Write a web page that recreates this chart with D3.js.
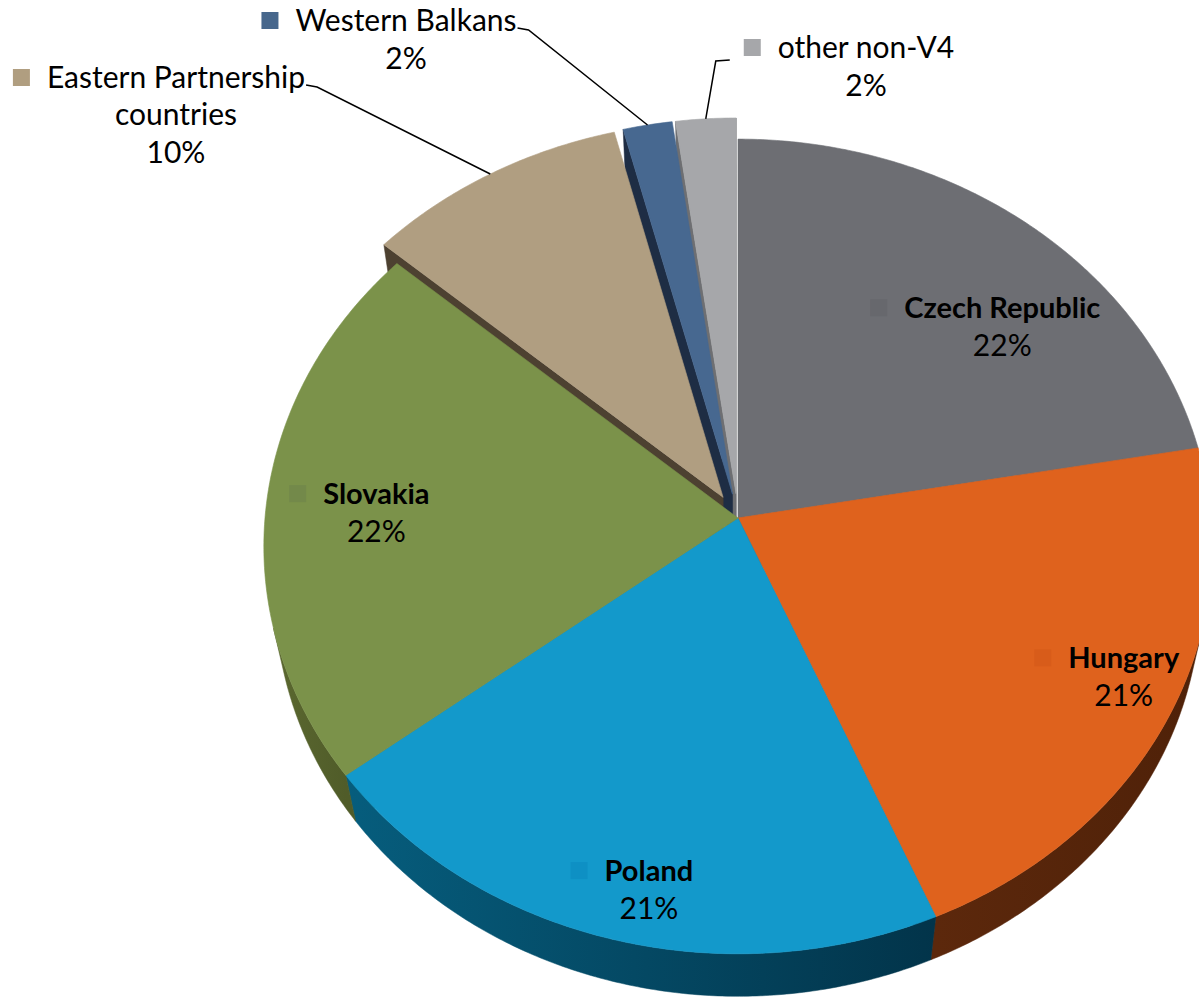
<!DOCTYPE html>
<html lang="en">
<head>
<meta charset="UTF-8" />
<title>3D Pie - share by country group</title>
<script src="https://d3js.org/d3.v7.min.js"></script>
<style>
  body { margin: 0; background: #fff; }
  svg { display: block; }
  text { font-family: Lato, "Open Sans", sans-serif; fill: #000; }
</style>
</head>
<body>
<svg width="1199" height="997"></svg>
<script>
// data (percentages)
const categories = ["Czech Republic", "Hungary", "Poland", "Slovakia",
  "Eastern Partnership countries", "Western Balkans", "other non-V4"];
const shares = [22.2, 21.4, 21.0, 21.8, 9.6, 1.8, 2.2];
const pctLabels = ["22%", "21%", "21%", "22%", "10%", "2%", "2%"];

const topColors  = ["#6d6e73", "#df621d", "#1399cb", "#7b924a", "#b09e81", "#476890", "#a6a7aa"];
const sideLight  = ["#45464a", "#5c280c", "#065d7d", "#5b6830", "#4d4131", "#1e2d44", "#6e6f72"];
const sideDark   = ["#3a3b3e", "#4f2108", "#02344a", "#505c29", "#3f3527", "#18243a", "#5e5f62"];
const markColors = ["#67686d", "#d85c1a", "#0e90c4", "#73894a", "#b09e80", "#47678c", "#a6a7aa"];
const explode = [0, 0, 0, 0, 0.06, 0.06, 0.06];

// 3d projection setup (unit radius disk, camera above and in front)
const cx = 738, cy = 518;
const D = 7.38, s = 0.857, c = Math.sqrt(1 - s * s);
const f = 473 * D;
const depthH = 0.21;

function P(x, y, z) {
  const d = D - y * s - z * c;
  return [cx + f * x / d, cy - f * (y * c - z * s) / d];
}
function camDepth(x, y, z) { return D - y * s - z * c; }

const svg = d3.select("svg");
const pie = d3.pie().sort(null).value(d => d);
const arcs = pie(shares);

const slices = arcs.map((a, i) => {
  const mid = (a.startAngle + a.endAngle) / 2;
  return {
    i, a0: a.startAngle, a1: a.endAngle, mid,
    ox: explode[i] * Math.sin(mid), oz: -explode[i] * Math.cos(mid)
  };
});

function rim(sl, t, y) {
  return [sl.ox + Math.sin(t), y, sl.oz - Math.cos(t)];
}
const line = d3.line();

const gRadial = svg.append("g");
const gWall = svg.append("g");
const gTop = svg.append("g");
const defs = svg.append("defs");

// radial (cut) faces
const faces = [];
slices.forEach(sl => {
  [[sl.a0, -1], [sl.a1, 1]].forEach(([t, sign]) => {
    const nx = sign * Math.cos(t), nz = sign * Math.sin(t);
    const vis = nx * (0 - sl.ox) + nz * (D * c - sl.oz);
    if (vis <= 0.001) return;
    const a = [sl.ox, 0, sl.oz], b = rim(sl, t, 0);
    const bb = rim(sl, t, -depthH), ab = [sl.ox, -depthH, sl.oz];
    faces.push({
      sl, pts: [a, b, bb, ab].map(p => P(...p)),
      z: camDepth((a[0] + b[0]) / 2, -depthH / 2, (a[2] + b[2]) / 2)
    });
  });
});
faces.sort((p, q) => q.z - p.z);
gRadial.selectAll("path").data(faces).join("path")
  .attr("d", d => line(d.pts) + "Z")
  .attr("fill", d => sideLight[d.sl.i])
  .attr("stroke", d => sideLight[d.sl.i])
  .attr("stroke-width", 0.5);

// outer curved walls
slices.forEach(sl => {
  const n = Math.max(8, Math.ceil((sl.a1 - sl.a0) * 180 / Math.PI * 2));
  const ts = d3.range(n + 1).map(k => sl.a0 + (sl.a1 - sl.a0) * k / n)
    .filter(t => -sl.ox * Math.sin(t) - 1 - D * c * Math.cos(t) + sl.oz * Math.cos(t) > 0);
  if (ts.length < 2) return;
  const topPts = ts.map(t => P(...rim(sl, t, 0)));
  const botPts = ts.map(t => P(...rim(sl, t, -depthH))).reverse();
  const xs = topPts.map(p => p[0]);
  const gid = "wall" + sl.i;
  const grad = defs.append("linearGradient").attr("id", gid)
    .attr("gradientUnits", "userSpaceOnUse")
    .attr("x1", d3.min(xs)).attr("x2", d3.max(xs)).attr("y1", 0).attr("y2", 0);
  grad.append("stop").attr("offset", 0).attr("stop-color", sideLight[sl.i]);
  grad.append("stop").attr("offset", 1).attr("stop-color", sideDark[sl.i]);
  gWall.append("path")
    .attr("d", line(topPts.concat(botPts)) + "Z")
    .attr("fill", `url(#${gid})`)
    .attr("stroke", `url(#${gid})`)
    .attr("stroke-width", 0.5);
});

// top faces
gTop.selectAll("path").data(slices).join("path")
  .attr("d", sl => {
    const n = Math.max(4, Math.ceil((sl.a1 - sl.a0) * 180 / Math.PI * 2));
    const pts = [P(sl.ox, 0, sl.oz)];
    for (let k = 0; k <= n; k++) pts.push(P(...rim(sl, sl.a0 + (sl.a1 - sl.a0) * k / n, 0)));
    return line(pts) + "Z";
  })
  .attr("fill", sl => topColors[sl.i])
  .attr("stroke", sl => topColors[sl.i])
  .attr("stroke-width", 0.6);

// labels inside the pie: [angle deg, radius] of the name baseline centre
const insideAt = [[47.2, 0.79], [113, 0.865], [192.2, 0.84], [274.4, 0.77]];
const fsBold = 29, fsReg = 30, lineGap = 38, mark = 17;

const gLab = svg.append("g");
insideAt.forEach(([deg, r], i) => {
  const t = deg * Math.PI / 180;
  const [x, y] = P(r * Math.sin(t), 0, -r * Math.cos(t));
  const name = gLab.append("text").attr("x", x).attr("y", y + 10)
    .attr("text-anchor", "middle").attr("font-weight", "bold")
    .attr("font-size", fsBold).text(categories[i]);
  const w = name.node().getComputedTextLength();
  gLab.append("rect").attr("x", x - w / 2 - 17 - mark).attr("y", y + 10 - 19)
    .attr("width", mark).attr("height", mark).attr("fill", markColors[i]);
  gLab.append("text").attr("x", x).attr("y", y + 10 + lineGap)
    .attr("text-anchor", "middle").attr("font-size", fsReg).text(pctLabels[i]);
});

// labels outside with leader lines: name centre x, first baseline, lines
const outside = [
  { i: 4, x: 176, y: 88, lines: ["Eastern Partnership", "countries"], side: "right" },
  { i: 5, x: 406, y: 31, lines: ["Western Balkans"], side: "right" },
  { i: 6, x: 866, y: 58, lines: ["other non-V4"], side: "left" }
];
outside.forEach(o => {
  let w0 = 0;
  o.lines.forEach((ln, k) => {
    const tnode = gLab.append("text").attr("x", o.x).attr("y", o.y + k * 36.5)
      .attr("text-anchor", "middle").attr("font-size", fsReg).text(ln);
    if (k === 0) w0 = tnode.node().getComputedTextLength();
  });
  gLab.append("text").attr("x", o.x).attr("y", o.y + o.lines.length * 37.5)
    .attr("text-anchor", "middle").attr("font-size", fsReg).text(pctLabels[o.i]);
  gLab.append("rect").attr("x", o.x - w0 / 2 - 17 - mark).attr("y", o.y - 19)
    .attr("width", mark).attr("height", mark).attr("fill", markColors[o.i]);
  const sl = slices[o.i];
  const end = P(...rim(sl, sl.mid, 0));
  let pts;
  if (o.side === "right") {
    const x0 = o.x + w0 / 2 + 1;
    pts = [[x0, o.y - 3], [x0 + 11, o.y - 1], end];
  } else {
    const x0 = o.x - w0 / 2 - 17 - mark - 14;
    pts = [[x0, o.y + 2], [x0 - 14, o.y + 3], end];
  }
  gLab.append("path").attr("d", line(pts)).attr("fill", "none")
    .attr("stroke", "#000").attr("stroke-width", 1.5);
});
</script>
</body>
</html>
